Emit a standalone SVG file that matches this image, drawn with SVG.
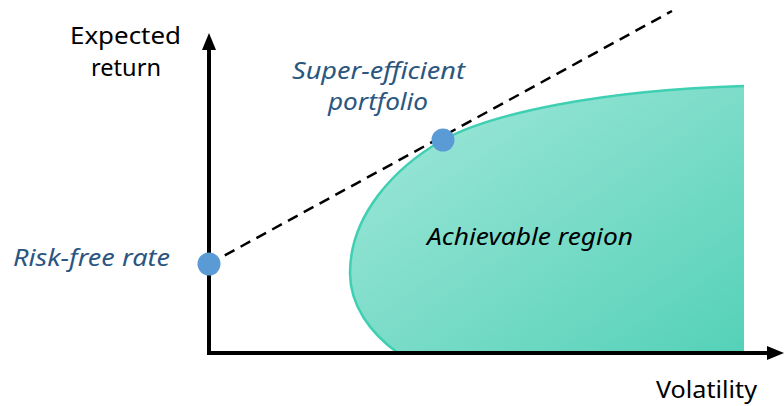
<svg xmlns="http://www.w3.org/2000/svg" width="784" height="406" viewBox="0 0 784 406">
<defs>
<linearGradient id="g" x1="0" y1="0" x2="1" y2="1">
<stop offset="0" stop-color="#a3e8da"/>
<stop offset="1" stop-color="#55d1b8"/>
</linearGradient>
<style>
text{font-family:"Noto Sans","DejaVu Sans",sans-serif;font-size:23px}
.ax{fill:#000}
.lbl{fill:#2b5680;font-style:italic}
.dot{fill:#5b9bd5}
</style>
</defs>
<g id="region">
<path d="M398,353 C370,333 350,305 350,273 C350,215 395,167 443,140 C490,114 600,90 744,86 L744,353 Z" fill="url(#g)"/>
<path d="M398,353 C370,333 350,305 350,273 C350,215 395,167 443,140 C490,114 600,90 744,86" fill="none" stroke="#3fcfb3" stroke-width="2.5"/>
<text x="427" y="245" textLength="206" lengthAdjust="spacingAndGlyphs" style="font-style:italic" fill="#000">Achievable region</text>
</g>
<g id="connectors">
<line x1="209" y1="264" x2="672" y2="11" stroke="#000" stroke-width="2.5" stroke-dasharray="11,7"/>
<line x1="209" y1="352" x2="209" y2="48" stroke="#000" stroke-width="4"/>
<polygon points="209,33 202,50 216,50" fill="#000"/>
<line x1="207" y1="353" x2="770" y2="353" stroke="#000" stroke-width="4"/>
<polygon points="784,353 767,346 767,360" fill="#000"/>
</g>
<g id="yaxis-label">
<text x="70" y="44" textLength="111" lengthAdjust="spacingAndGlyphs" class="ax">Expected</text>
<text x="91" y="76" textLength="70" lengthAdjust="spacingAndGlyphs" class="ax">return</text>
</g>
<g id="xaxis-label">
<text x="656" y="398" textLength="101" lengthAdjust="spacingAndGlyphs" class="ax">Volatility</text>
</g>
<g id="risk-free">
<circle cx="209" cy="264" r="11.5" class="dot"/>
<text x="13" y="266" textLength="157" lengthAdjust="spacingAndGlyphs" class="lbl">Risk-free rate</text>
</g>
<g id="super-efficient">
<circle cx="443" cy="140" r="11.5" class="dot"/>
<text x="292" y="79" textLength="173" lengthAdjust="spacingAndGlyphs" class="lbl">Super-efficient</text>
<text x="328" y="110" textLength="100" lengthAdjust="spacingAndGlyphs" class="lbl">portfolio</text>
</g>
</svg>
